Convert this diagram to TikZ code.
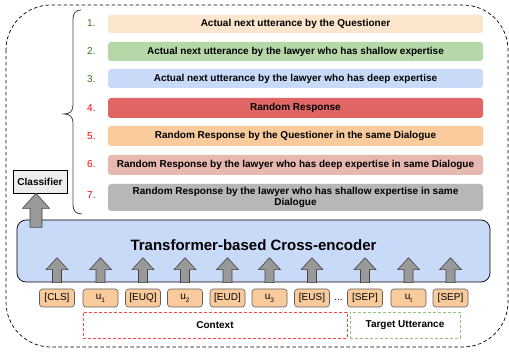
\documentclass[tikz,border=0pt]{standalone}
\usepackage{fontspec}
\setmainfont{Liberation Sans}
\usetikzlibrary{calc}
\definecolor{cA}{HTML}{FCE5CD}
\definecolor{cB}{HTML}{B6D7A8}
\definecolor{cC}{HTML}{C9DAF8}
\definecolor{cD}{HTML}{E06666}
\definecolor{cE}{HTML}{F9CB9C}
\definecolor{cF}{HTML}{E6B8AF}
\definecolor{cG}{HTML}{B7B7B7}
\definecolor{numgreen}{HTML}{38761D}
\definecolor{numred}{HTML}{FF0000}
\definecolor{arrfill}{HTML}{999999}
\definecolor{arrdraw}{HTML}{434343}
\definecolor{tokdraw}{HTML}{5F5F5F}
\definecolor{ctxred}{HTML}{FF4444}
\definecolor{tgtgreen}{HTML}{93C47D}
\newcommand{\mysub}[1]{\raisebox{-3pt}{\fontsize{6.5}{7}\selectfont #1}}
\begin{document}
\begin{tikzpicture}[x=1pt,y=-1pt,
  bar/.style={rounded corners=3pt, inner sep=1pt, minimum width=375pt, font=\fontsize{10}{12}\selectfont\bfseries, align=center},
  num/.style={font=\fontsize{10}{12}\selectfont, anchor=west, inner sep=0pt},
  tok/.style={draw=tokdraw, fill=cE, rounded corners=3pt, minimum width=35pt, minimum height=18pt, inner sep=0pt, font=\fontsize{10}{12}\selectfont, line width=0.6pt},
  arrstyle/.style={fill=arrfill, draw=arrdraw, line width=0.6pt, line join=miter},
  uparr/.pic={\draw[arrstyle] (-4.5,0) -- (-4.5,-13) -- (-11,-13) -- (0,-25) -- (11,-13) -- (4.5,-13) -- (4.5,0) -- cycle;},
  bigarr/.pic={\draw[arrstyle] (-6,0) -- (-6,-19) -- (-13.5,-19) -- (0,-34) -- (13.5,-19) -- (6,-19) -- (6,0) -- cycle;},
  grp/.style={dashed, line width=0.7pt, dash pattern=on 3pt off 2pt, font=\fontsize{10}{12}\selectfont\bfseries}
]
\useasboundingbox (0,0) rectangle (509,352);
% outer dashed frame
\draw[dashed, line width=0.7pt, dash pattern=on 3.5pt off 2.5pt, rounded corners=45pt] (6,5) rectangle (508,347);

% bars
\node[bar, fill=cA, minimum height=18pt] (b1) at (295.5,24) {Actual next utterance by the Questioner};
\node[bar, fill=cB, minimum height=19pt] (b2) at (295.5,51.5) {Actual next utterance by the lawyer who has shallow expertise};
\node[bar, fill=cC, minimum height=19pt] (b3) at (295.5,78.5) {Actual next utterance by the lawyer who has deep expertise};
\node[bar, fill=cD, minimum height=20pt] (b4) at (295.5,108) {Random Response};
\node[bar, fill=cE, minimum height=20pt] (b5) at (295.5,136) {Random Response by the Questioner in the same Dialogue};
\node[bar, fill=cF, minimum height=20pt] (b6) at (295.5,165) {Random Response by the lawyer who has deep expertise in same Dialogue};
\node[bar, fill=cG, minimum height=27pt, font=\fontsize{10}{11.5}\selectfont\bfseries] (b7) at (295.5,197.5) {Random Response by the lawyer who has shallow expertise in same\\Dialogue};

% numbers
\node[num, text=numgreen] (n1) at (87,23) {1.};
\node[num, text=numgreen] (n2) at (87,51) {2.};
\node[num, text=numgreen] (n3) at (87,79) {3.};
\node[num, text=numred] (n4) at (87,108) {4.};
\node[num, text=numred] (n5) at (87,136) {5.};
\node[num, text=numred] (n6) at (87,164) {6.};
\node[num, text=numred] (n7) at (87,195) {7.};

% brace
\draw[draw=arrdraw, line width=0.8pt]
  (81,10) .. controls (76,10) and (73,13) .. (73,19)
  -- (73,105) .. controls (73,111) and (70,114) .. (64,114)
  .. controls (70,114) and (73,117) .. (73,123)
  -- (73,205) .. controls (73,211) and (76,214) .. (82,214);

% transformer
\node[draw=black, fill=cC, rounded corners=9pt, minimum width=473pt, minimum height=62pt, line width=0.7pt, inner sep=0pt] (tr) at (253.5,251) {};
\node[font=\fontsize{15}{18}\selectfont\bfseries, inner sep=0pt] (trtext) at (253.5,245) {Transformer-based Cross-encoder};

% classifier
\node[draw=black, fill=black!7, minimum width=54pt, minimum height=23pt, inner sep=0pt, font=\fontsize{10}{12}\selectfont\bfseries, line width=0.7pt] (cls) at (40,181.5) {Classifier};
\pic at ($(cls.south)+(-4,34)$) {bigarr};

% tokens
\node[tok] (t1) at (57,298) {[CLS]};
\node[tok] (t2) at (100.5,298) {u\mysub{1}};
\node[tok] (t3) at (143,298) {[EUQ]};
\node[tok] (t4) at (185,298) {u\mysub{2}};
\node[tok] (t5) at (227.5,298) {[EUD]};
\node[tok] (t6) at (269.5,298) {u\mysub{3}};
\node[tok] (t7) at (312,298) {[EUS]};
\node[font=\fontsize{10}{12}\selectfont, inner sep=0pt] (dots) at (338.5,300) {...};
\node[tok] (t8) at (365,298) {[SEP]};
\node[tok] (t9) at (408.5,298) {u\mysub{t}};
\node[tok] (t10) at (450.5,298) {[SEP]};

\foreach \t in {t1,t2,t3,t4,t5,t6,t7,t8,t9,t10}
  \pic at ($(\t.north)+(0,-6)$) {uparr};

% groups
\node[grp, draw=ctxred, minimum width=264pt, minimum height=26pt, inner sep=0pt] (ctx) at (215,325) {Context};
\node[grp, draw=tgtgreen, minimum width=110pt, minimum height=26pt, inner sep=0pt] (tgt) at (405,325) {Target Utterance};
\end{tikzpicture}
\end{document}
